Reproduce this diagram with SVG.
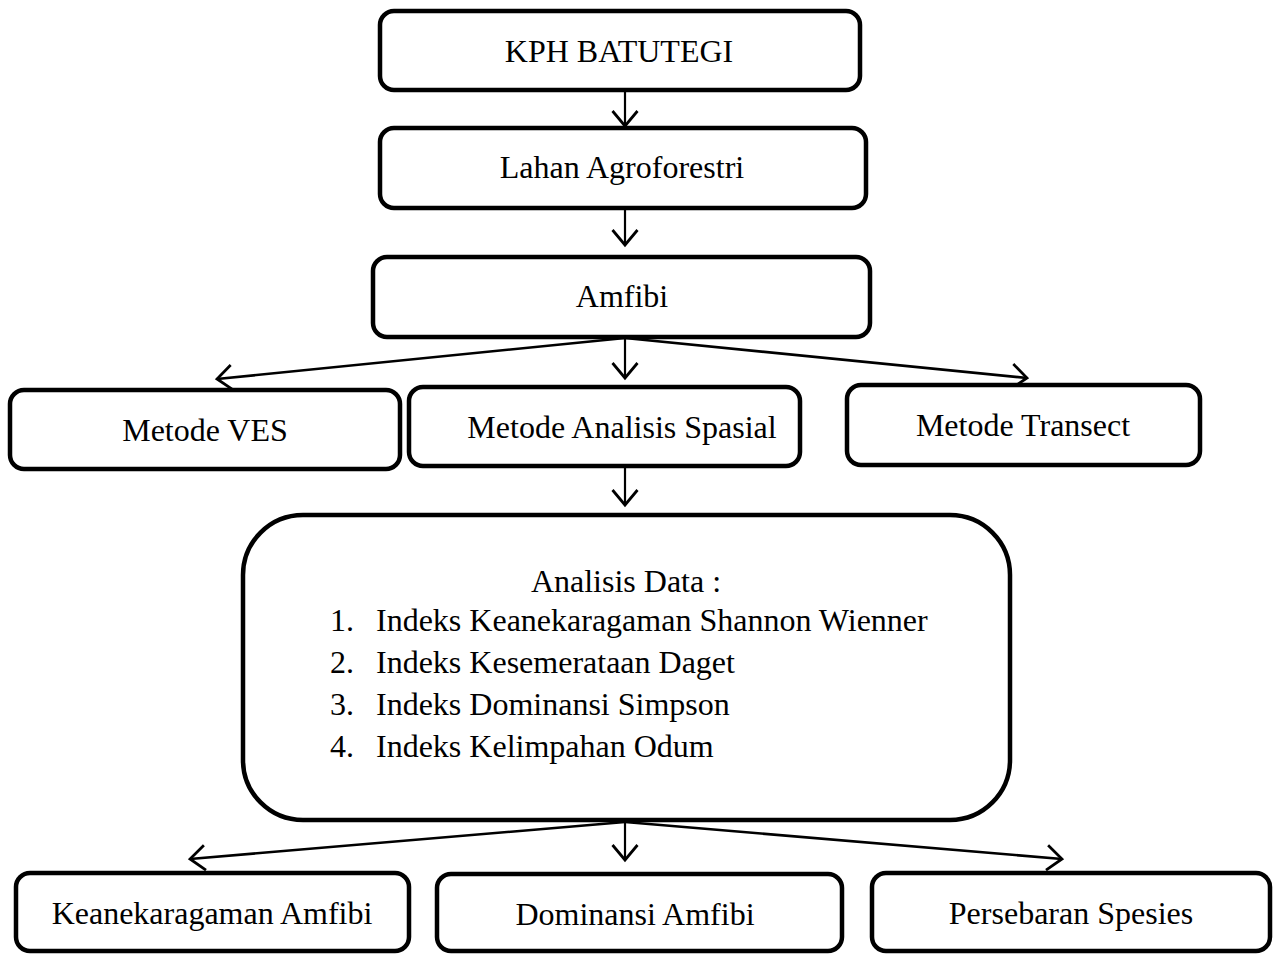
<svg xmlns="http://www.w3.org/2000/svg" width="1274" height="954" viewBox="0 0 1274 954">
<defs>
<style>
.box{fill:#fff;stroke:#000;stroke-width:4.5}
.t{font-family:"Liberation Serif","Times New Roman",serif;font-size:32px;fill:#000}
.c{text-anchor:middle}
.ln{stroke:#000;stroke-width:2.2;fill:none}
.dg{stroke-width:2.6}
</style>
<marker id="ah" markerUnits="userSpaceOnUse" markerWidth="30" markerHeight="30" viewBox="-14 -12 16 24" refX="0" refY="0" orient="auto">
<path d="M-12,-10 L0,0 L-12,10" fill="none" stroke="#000" stroke-width="2.2"/>
</marker>
</defs>
<rect width="1274" height="954" fill="#fff"/>
<g id="connectors">
<line class="ln" x1="625" y1="90" x2="625" y2="126" marker-end="url(#ah)"/>
<line class="ln" x1="625" y1="208" x2="625" y2="245" marker-end="url(#ah)"/>
<line class="ln dg" x1="625" y1="338" x2="217" y2="379" marker-end="url(#ah)"/>
<line class="ln" x1="625" y1="338" x2="625" y2="378" marker-end="url(#ah)"/>
<line class="ln dg" x1="625" y1="338" x2="1027" y2="378" marker-end="url(#ah)"/>
<line class="ln" x1="625" y1="466" x2="625" y2="505" marker-end="url(#ah)"/>
<line class="ln dg" x1="625" y1="822" x2="190" y2="859" marker-end="url(#ah)"/>
<line class="ln" x1="625" y1="822" x2="625" y2="860" marker-end="url(#ah)"/>
<line class="ln dg" x1="625" y1="822" x2="1062" y2="859" marker-end="url(#ah)"/>
</g>
<g id="kph">
<rect class="box" x="380" y="11" width="480" height="79" rx="14"/>
<text class="t c" x="619" y="62">KPH BATUTEGI</text>
</g>
<g id="lahan">
<rect class="box" x="380" y="128" width="486" height="80" rx="14"/>
<text class="t c" x="622" y="178">Lahan Agroforestri</text>
</g>
<g id="amfibi">
<rect class="box" x="373" y="257" width="497" height="80" rx="14"/>
<text class="t c" x="622" y="307">Amfibi</text>
</g>
<g id="ves">
<rect class="box" x="10" y="390" width="390" height="79" rx="14"/>
<text class="t c" x="205" y="441">Metode VES</text>
</g>
<g id="spasial">
<rect class="box" x="409" y="387" width="391" height="79" rx="14"/>
<text class="t c" x="622" y="438">Metode Analisis Spasial</text>
</g>
<g id="transect">
<rect class="box" x="847" y="385" width="353" height="80" rx="14"/>
<text class="t c" x="1023" y="436">Metode Transect</text>
</g>
<g id="analisis">
<rect class="box" x="243" y="515" width="767" height="305" rx="60"/>
<text class="t c" x="626" y="592">Analisis Data :</text>
<text class="t" x="330" y="631">1.</text>
<text class="t" x="376" y="631">Indeks Keanekaragaman Shannon Wienner</text>
<text class="t" x="330" y="673">2.</text>
<text class="t" x="376" y="673">Indeks Kesemerataan Daget</text>
<text class="t" x="330" y="715">3.</text>
<text class="t" x="376" y="715">Indeks Dominansi Simpson</text>
<text class="t" x="330" y="757">4.</text>
<text class="t" x="376" y="757">Indeks Kelimpahan Odum</text>
</g>
<g id="keanekaragaman">
<rect class="box" x="16" y="873" width="393" height="78" rx="14"/>
<text class="t c" x="212" y="924">Keanekaragaman Amfibi</text>
</g>
<g id="dominansi">
<rect class="box" x="437" y="874" width="405" height="77" rx="14"/>
<text class="t c" x="635" y="925">Dominansi Amfibi</text>
</g>
<g id="persebaran">
<rect class="box" x="872" y="873" width="398" height="78" rx="14"/>
<text class="t c" x="1071" y="924">Persebaran Spesies</text>
</g>
</svg>
